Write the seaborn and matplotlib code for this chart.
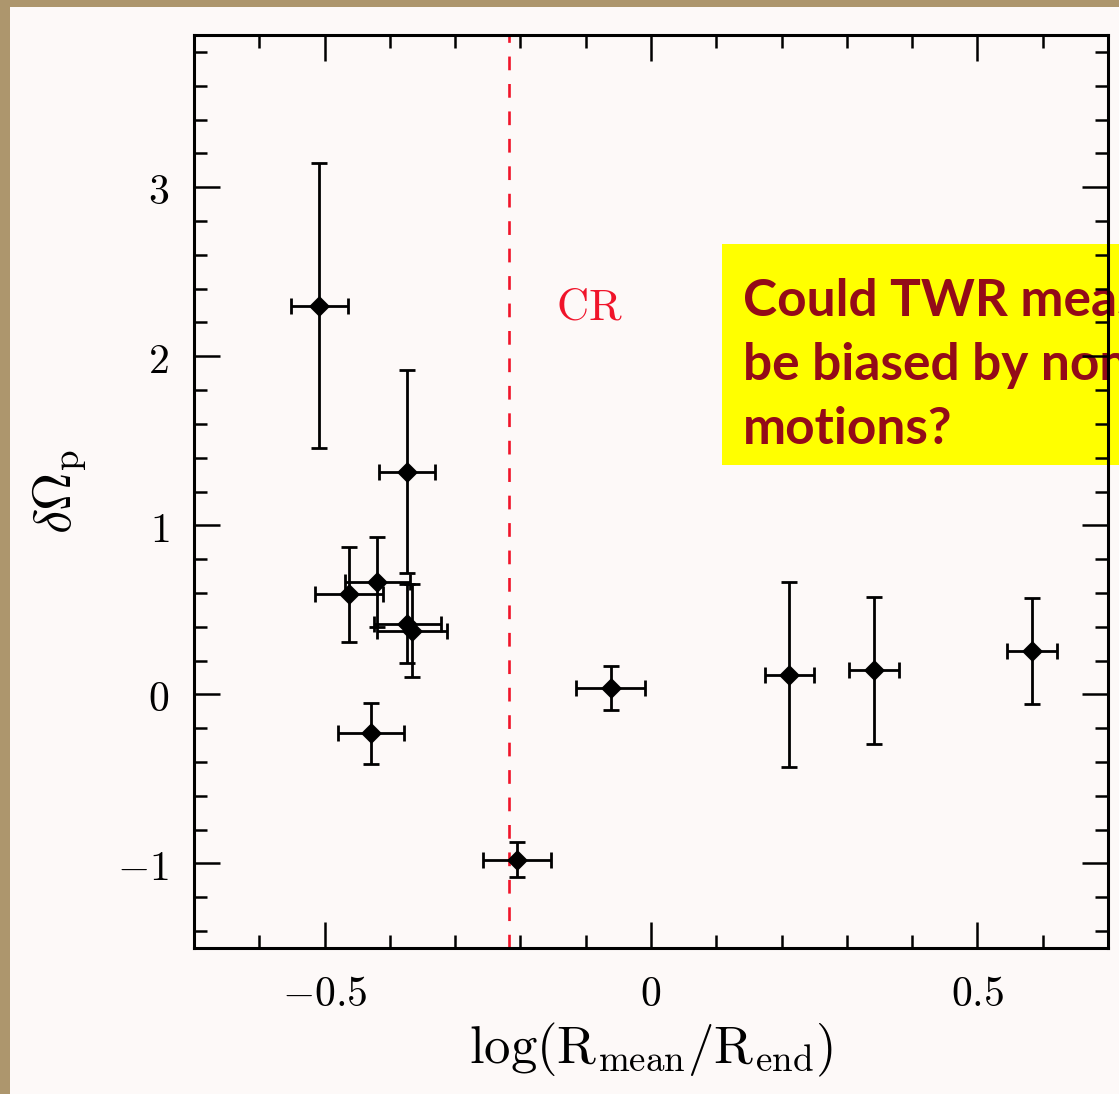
import matplotlib
matplotlib.use("Agg")
import matplotlib.pyplot as plt
from matplotlib.patches import Rectangle
from matplotlib.ticker import MultipleLocator, FixedLocator, FixedFormatter
import numpy as np
import pandas as pd
import seaborn as sns

# Pattern-speed offsets against the radial position of each measurement
log_r = [-0.508, -0.374, -0.463, -0.419, -0.373, -0.366, -0.429, -0.205, -0.062, 0.212, 0.342, 0.584]
d_omega = [2.30, 1.316, 0.592, 0.665, 0.418, 0.375, -0.229, -0.977, 0.037, 0.117, 0.142, 0.256]
log_r_err = [0.044, 0.043, 0.052, 0.050, 0.052, 0.053, 0.051, 0.052, 0.053, 0.038, 0.038, 0.038]
d_omega_err = [0.84, 0.60, 0.28, 0.265, 0.235, 0.275, 0.18, 0.104, 0.13, 0.545, 0.433, 0.312]

# Corotation radius marker
cr_position = -0.218

x_ticks = [-0.5, 0.0, 0.5]
x_tick_labels = [r"$-0.5$", r"$0$", r"$0.5$"]
y_ticks = [-1, 0, 1, 2, 3]
y_tick_labels = [r"$-1$", r"$0$", r"$1$", r"$2$", r"$3$"]

note_lines = ["Could TWR measurements", "be biased by non-circular", "motions?"]

df = pd.DataFrame({"log_r": log_r, "d_omega": d_omega})

sns.set_theme(style="ticks")
plt.rcParams["mathtext.fontset"] = "cm"
plt.rcParams["font.family"] = ["DejaVu Serif"]

W, H = 1119, 1094
fig = plt.figure(figsize=(W / 100, H / 100), dpi=100)
fig.patch.set_facecolor("#ad966d")

# light sheet behind the plot
fig.patches.append(Rectangle((10 / W, 0), 1 - 10 / W, 1 - 7 / H, transform=fig.transFigure,
                             facecolor="#fdf9f8", edgecolor="none", zorder=-3))
# yellow call-out box
fig.patches.append(Rectangle((722 / W, 1 - 465 / H), 1 - 722 / W, (465 - 244) / H,
                             transform=fig.transFigure, facecolor="#ffff00",
                             edgecolor="none", zorder=-2))
for i, line in enumerate(note_lines):
    fig.text(743 / W, 1 - (316 + 64 * i) / H, line, color="#930b18",
             fontsize=37, fontweight="bold", family=["Lato", "DejaVu Sans"],
             ha="left", va="baseline", zorder=-1)

ax = fig.add_axes([194 / W, 1 - 948 / H, (1108 - 194) / W, (948 - 35) / H])
ax.set_facecolor("none")

ax.axvline(cr_position, color="#f0142a", lw=1.9, dashes=(5.2, 5.2), zorder=1)
ax.text(-0.095, 2.29, r"$\mathrm{CR}$", color="#f0142a", fontsize=32,
        ha="center", va="center")

ax.errorbar(log_r, d_omega, xerr=log_r_err, yerr=d_omega_err, fmt="none",
            ecolor="black", elinewidth=2.0, capsize=6.0, capthick=2.0, zorder=3)
sns.scatterplot(data=df, x="log_r", y="d_omega", marker="D", s=115, color="black",
                edgecolor="black", linewidth=0, ax=ax, zorder=4)

ax.set_xlim(-0.7, 0.7)
ax.set_ylim(-1.5, 3.9)

ax.xaxis.set_major_locator(FixedLocator(x_ticks))
ax.xaxis.set_major_formatter(FixedFormatter(x_tick_labels))
ax.xaxis.set_minor_locator(MultipleLocator(0.1))
ax.yaxis.set_major_locator(FixedLocator(y_ticks))
ax.yaxis.set_major_formatter(FixedFormatter(y_tick_labels))
ax.yaxis.set_minor_locator(MultipleLocator(0.2))

ax.tick_params(which="both", direction="in", top=True, right=True, color="black",
               width=1.8, labelsize=30, pad=18, labelcolor="black")
ax.tick_params(which="major", length=19)
ax.tick_params(which="minor", length=9.5)
for s in ax.spines.values():
    s.set_linewidth(2.2)
    s.set_color("black")

ax.set_xlabel(r"$\log(\mathrm{R}_{\mathrm{mean}}/\mathrm{R}_{\mathrm{end}})$",
              fontsize=38, labelpad=4, color="black")
ax.set_ylabel(r"$\delta\Omega_{\mathrm{p}}$", fontsize=38, labelpad=20, color="black")

fig.savefig("out.png", dpi=100, facecolor=fig.get_facecolor())
